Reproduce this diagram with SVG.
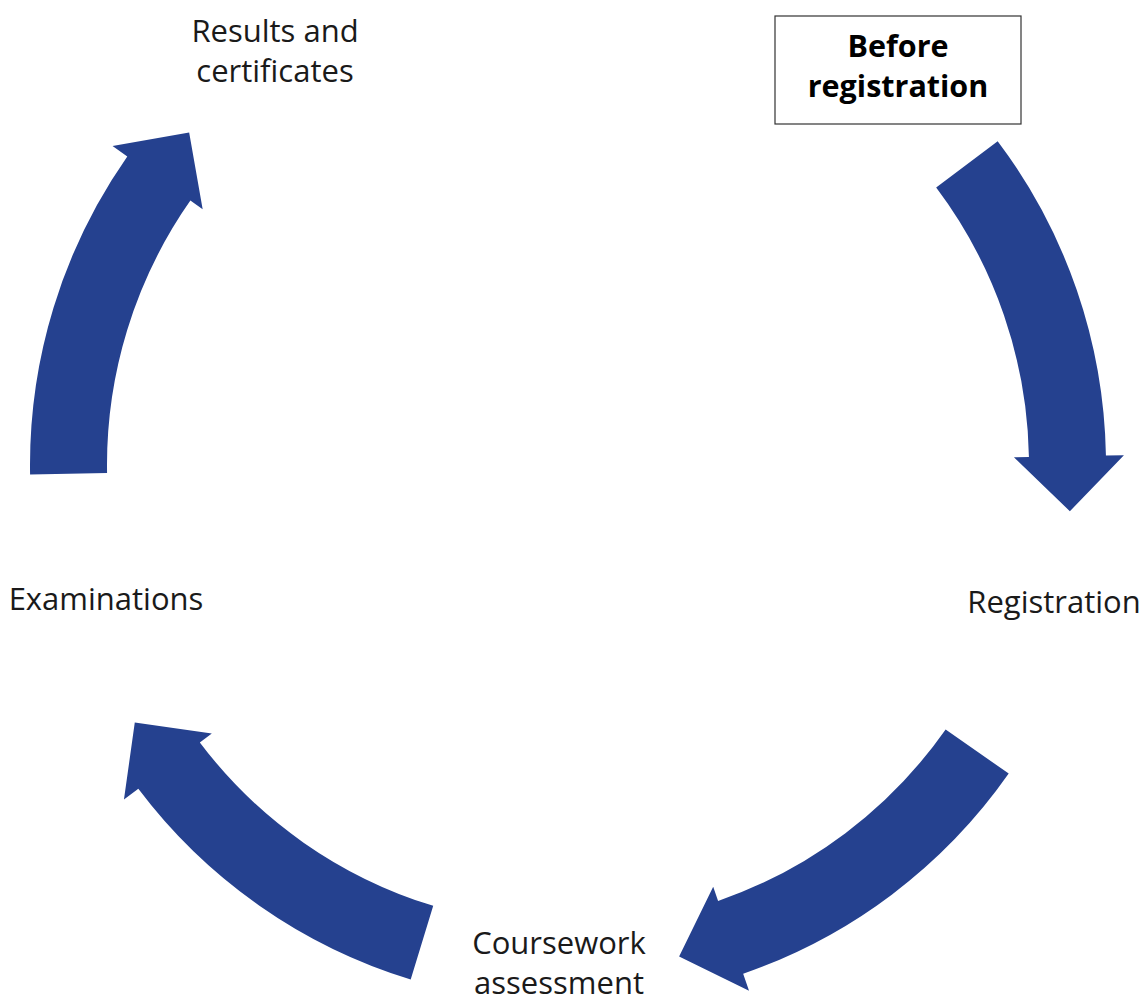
<svg xmlns="http://www.w3.org/2000/svg" width="1144" height="998" viewBox="0 0 1144 998">
<style>
.arrow{fill:#25418F;stroke:none}
.lbl{font-family:"Open Sans","Liberation Sans",sans-serif;font-size:31px;fill:#1a1a1a;text-anchor:middle}
.bold{font-family:"Open Sans","Liberation Sans",sans-serif;font-size:30.5px;font-weight:bold;fill:#000;text-anchor:middle}
</style>
<rect width="1144" height="998" fill="#fff"/>
<g id="connectors">
<path class="arrow" d="M997.67,141.22 A538,538 0 0 1 1105.92,455.61 L1123.92,455.30 L1069.88,511.25 L1013.93,457.22 L1028.93,456.95 A461,461 0 0 0 936.17,187.56 Z"/>
<path class="arrow" d="M1008.70,773.59 A538,538 0 0 1 743.16,973.69 L749.02,990.71 L679.11,956.62 L713.20,886.70 L718.09,900.88 A461,461 0 0 0 945.63,729.42 Z"/>
<path class="arrow" d="M410.70,979.49 A538,538 0 0 1 138.33,788.78 L123.96,799.61 L134.78,722.58 L211.81,733.41 L199.83,742.44 A461,461 0 0 0 433.22,905.85 Z"/>
<path class="arrow" d="M30.08,474.39 A538,538 0 0 1 127.30,156.41 L112.55,146.09 L189.16,132.59 L202.66,209.18 L190.37,200.58 A461,461 0 0 0 107.07,473.05 Z"/>
</g>
<g id="before-registration">
<rect x="775" y="16" width="246" height="108" fill="#fff" stroke="#333" stroke-width="1.2"/>
<text class="bold" x="898" y="57">Before</text>
<text class="bold" x="898" y="97">registration</text>
</g>
<g id="registration">
<text class="lbl" x="1054" y="613">Registration</text>
</g>
<g id="coursework-assessment">
<text class="lbl" x="559" y="954">Coursework</text>
<text class="lbl" x="559" y="994">assessment</text>
</g>
<g id="examinations">
<text class="lbl" x="106" y="610">Examinations</text>
</g>
<g id="results-certificates">
<text class="lbl" x="275" y="42">Results and</text>
<text class="lbl" x="275" y="82">certificates</text>
</g>
</svg>
